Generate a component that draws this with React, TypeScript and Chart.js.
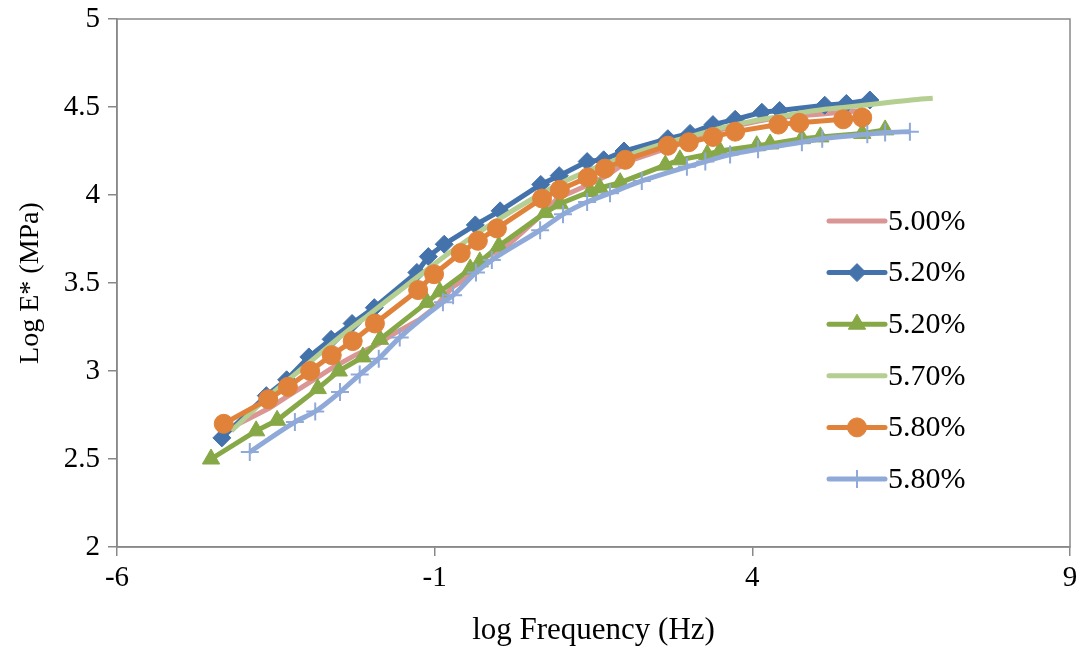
import React, { useEffect, useRef } from "react";
import { Chart, registerables } from "chart.js";
import { drawPoint } from "chart.js/helpers";
Chart.register(...registerables);

const seriesLabels = ["5.00%", "5.20%", "5.20%", "5.70%", "5.80%", "5.80%"];

const xPink = [-4.3, -3.6, -3.3, -2.95, -2.6, -2.25, -1.9, -1.65, -1.25, -1.0, -0.71, -0.49, -0.18, 0.14, 0.66, 0.93, 1.49, 1.71, 2.03, 2.7, 3.0, 3.4, 3.7, 4.1, 4.4, 5.1, 5.4, 5.75];
const yPink = [2.66, 2.79, 2.86, 2.94, 3.02, 3.09, 3.15, 3.21, 3.29, 3.36, 3.48, 3.53, 3.65, 3.71, 3.88, 3.98, 4.07, 4.11, 4.19, 4.27, 4.31, 4.36, 4.39, 4.42, 4.44, 4.46, 4.47, 4.48];

const xBlue = [-4.35, -3.65, -3.33, -2.98, -2.63, -2.30, -1.95, -1.28, -1.1, -0.85, -0.36, 0.03, 0.67, 0.96, 1.40, 1.66, 1.98, 2.67, 3.02, 3.38, 3.73, 4.15, 4.43, 5.14, 5.48, 5.85];
const yBlue = [2.62, 2.86, 2.95, 3.08, 3.18, 3.27, 3.36, 3.56, 3.65, 3.72, 3.83, 3.91, 4.06, 4.11, 4.19, 4.20, 4.25, 4.32, 4.35, 4.40, 4.43, 4.47, 4.48, 4.51, 4.52, 4.54];

const xGreen = [-4.52, -3.81, -3.48, -2.84, -2.51, -2.13, -1.86, -1.12, -0.92, -0.44, -0.29, 0.01, 0.74, 0.97, 1.45, 1.60, 1.92, 2.63, 2.86, 3.29, 3.49, 4.07, 4.28, 4.78, 5.07, 5.73, 6.09];
const yGreen = [2.50, 2.66, 2.72, 2.90, 3.00, 3.08, 3.18, 3.39, 3.45, 3.58, 3.62, 3.71, 3.90, 3.95, 4.02, 4.04, 4.07, 4.17, 4.20, 4.23, 4.25, 4.28, 4.29, 4.32, 4.33, 4.35, 4.37];

const xLightGreen = [-4.2, -3.6, -3.0, -2.5, -2.0, -1.5, -1.0, -0.5, 0.0, 0.5, 1.0, 1.5, 2.0, 2.5, 3.0, 3.5, 4.0, 4.5, 5.0, 5.5, 6.0, 6.5, 6.84];
const yLightGreen = [2.66, 2.86, 3.04, 3.19, 3.33, 3.47, 3.61, 3.74, 3.86, 3.97, 4.07, 4.15, 4.22, 4.28, 4.33, 4.38, 4.42, 4.45, 4.48, 4.50, 4.52, 4.54, 4.55];

const xOrange = [-4.32, -3.62, -3.31, -2.96, -2.62, -2.29, -1.94, -1.26, -1.01, -0.59, -0.32, -0.02, 0.69, 0.97, 1.41, 1.68, 2.00, 2.67, 3.00, 3.38, 3.73, 4.41, 4.74, 5.43, 5.73];
const yOrange = [2.70, 2.84, 2.91, 3.00, 3.09, 3.17, 3.27, 3.46, 3.55, 3.67, 3.74, 3.81, 3.98, 4.03, 4.10, 4.15, 4.20, 4.28, 4.30, 4.33, 4.36, 4.40, 4.41, 4.43, 4.44];

const xGray = [-3.91, -3.20, -2.88, -2.49, -2.18, -1.88, -1.55, -0.87, -0.71, -0.35, -0.10, 0.66, 1.02, 1.40, 1.76, 2.26, 2.97, 3.26, 3.65, 4.09, 4.78, 5.10, 5.81, 6.09, 6.48];
const yGray = [2.54, 2.71, 2.77, 2.88, 2.98, 3.07, 3.19, 3.39, 3.43, 3.56, 3.63, 3.80, 3.89, 3.96, 4.01, 4.08, 4.16, 4.19, 4.23, 4.26, 4.30, 4.32, 4.345, 4.355, 4.36];

const xTicks = [-6, -1, 4, 9];
const yTicks = [2, 2.5, 3, 3.5, 4, 4.5, 5];

const zip = (xs: number[], ys: number[]) => xs.map((x, i) => ({ x, y: ys[i] }));

const FONT = "'Liberation Serif', 'Times New Roman', serif";
const AXIS_GRAY = "#898989";

const legendPlugin = {
  id: "insideLegend",
  afterDraw(chart: any) {
    const ctx = chart.ctx;
    const ds = chart.data.datasets;
    const x0 = 829, x1 = 885, tx = 888, y0 = 221, dy = 51.6;
    ctx.save();
    ds.forEach((d: any, i: number) => {
      const y = y0 + i * dy;
      ctx.strokeStyle = d.borderColor;
      ctx.lineWidth = d.borderWidth;
      ctx.lineCap = "round";
      ctx.beginPath();
      ctx.moveTo(x0, y);
      ctx.lineTo(x1, y);
      ctx.stroke();
      if (d.pointRadius > 0) {
        ctx.fillStyle = d.pointBackgroundColor;
        ctx.strokeStyle = d.pointBorderColor;
        ctx.lineWidth = d.pointBorderWidth ?? 1;
        ctx.lineCap = "butt";
        drawPoint(ctx, { pointStyle: d.pointStyle, rotation: 0, radius: d.pointRadius, borderWidth: d.pointBorderWidth ?? 1 } as any, (x0 + x1) / 2, y);
      }
      ctx.fillStyle = "#000";
      ctx.font = `30px ${FONT}`;
      ctx.textBaseline = "middle";
      ctx.textAlign = "left";
      ctx.fillText(seriesLabels[i], tx, y + 1);
    });
    ctx.restore();
  },
};

const borderPlugin = {
  id: "plotBorder",
  beforeDatasetsDraw(chart: any) {
    const { ctx, chartArea } = chart;
    ctx.save();
    ctx.strokeStyle = AXIS_GRAY;
    ctx.lineWidth = 1.5;
    ctx.strokeRect(chartArea.left, chartArea.top, chartArea.right - chartArea.left, chartArea.bottom - chartArea.top);
    ctx.restore();
  },
};

export default function App() {
  const ref = useRef<HTMLCanvasElement | null>(null);
  useEffect(() => {
    if (!ref.current) return;
    const mk = (i: number, xs: number[], ys: number[], color: string, opts: any) => ({
      label: seriesLabels[i],
      data: zip(xs, ys),
      showLine: true,
      borderColor: color,
      backgroundColor: color,
      pointBackgroundColor: color,
      pointBorderColor: color,
      borderWidth: 5,
      pointBorderWidth: 1,
      order: 6 - i,
      ...opts,
    });
    const datasets = [
      mk(0, xPink, yPink, "#D99694", { pointRadius: 0 }),
      mk(1, xBlue, yBlue, "#4472AB", { pointStyle: "rectRot", pointRadius: 9 }),
      mk(2, xGreen, yGreen, "#86A846", { pointStyle: "triangle", pointRadius: 10 }),
      mk(3, xLightGreen, yLightGreen, "#B5CE91", { pointRadius: 0, cubicInterpolationMode: "monotone" }),
      mk(4, xOrange, yOrange, "#E0823A", { pointStyle: "circle", pointRadius: 9.5 }),
      mk(5, xGray, yGray, "#8FA9D8", { pointStyle: "cross", pointRadius: 9, pointBorderWidth: 2, cubicInterpolationMode: "monotone" }),
    ];
    const chart = new Chart(ref.current, {
      type: "scatter",
      data: { datasets },
      options: {
        responsive: false,
        animation: false,
        layout: { padding: { top: 19, right: 13, left: 0, bottom: 0 } },
        plugins: { legend: { display: false }, tooltip: { enabled: false } },
        scales: {
          x: {
            type: "linear",
            min: -6,
            max: 9,
            afterBuildTicks: (s: any) => { s.ticks = xTicks.map((v) => ({ value: v })); },
            afterFit: (s: any) => { s.height = 104; s.paddingLeft = 0; s.paddingRight = 0; },
            ticks: { color: "#000", font: { family: FONT, size: 29 }, padding: 5, callback: (v: any) => String(v) },
            grid: { drawOnChartArea: false, drawTicks: true, tickLength: 9, color: AXIS_GRAY, lineWidth: 1.5 },
            border: { display: true, color: AXIS_GRAY, width: 1.5 },
            title: { display: true, text: "log Frequency (Hz)", color: "#000", font: { family: FONT, size: 31 }, padding: { top: 0, bottom: 2 } },
          },
          y: {
            type: "linear",
            min: 2,
            max: 5,
            afterBuildTicks: (s: any) => { s.ticks = yTicks.map((v) => ({ value: v })); },
            afterFit: (s: any) => { s.width = 117; s.paddingTop = 0; s.paddingBottom = 0; },
            ticks: { color: "#000", font: { family: FONT, size: 29 }, padding: 8, callback: (v: any) => String(v) },
            grid: { drawOnChartArea: false, drawTicks: true, tickLength: 9, color: AXIS_GRAY, lineWidth: 1.5 },
            border: { display: true, color: AXIS_GRAY, width: 1.5 },
            title: { display: true, text: "Log E* (MPa)", color: "#000", font: { family: FONT, size: 28 }, padding: { top: 14, bottom: 0 } },
          },
        },
      },
      plugins: [borderPlugin, legendPlugin],
    });
    return () => chart.destroy();
  }, []);
  return (
    <div style={{ position: "absolute", left: 0, top: 0, width: 1083, height: 651, background: "#fff" }}>
      <canvas ref={ref} width={1083} height={651} />
    </div>
  );
}
